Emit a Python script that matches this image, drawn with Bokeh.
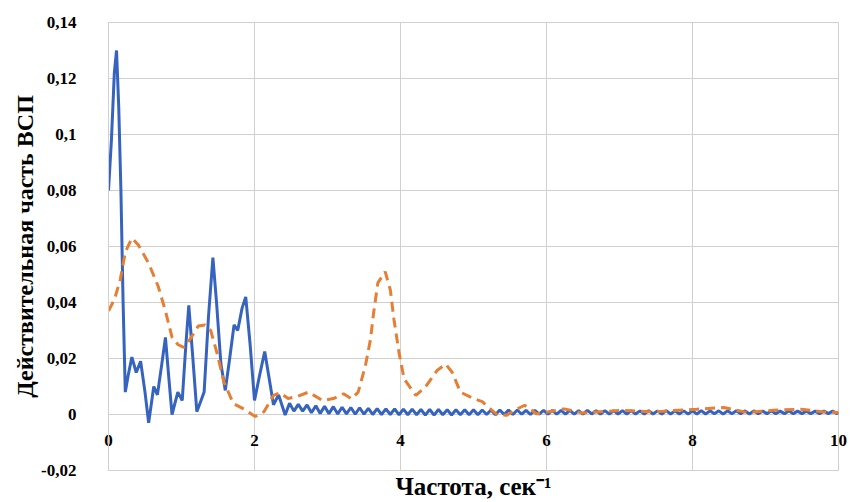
from bokeh.plotting import figure
from bokeh.models import Range1d, FixedTicker, CustomJSTickFormatter, Title
from bokeh.embed import file_html
from bokeh.resources import INLINE

# ---- data ----
x_ticks = [0, 2, 4, 6, 8, 10]
y_ticks = [-0.02, 0.0, 0.02, 0.04, 0.06, 0.08, 0.10, 0.12, 0.14]

blue_x = [0.00, 0.04, 0.08, 0.11, 0.14, 0.17, 0.20, 0.23, 0.27, 0.32,
          0.38, 0.44, 0.50, 0.55, 0.62, 0.67, 0.73, 0.78, 0.83, 0.87,
          0.95, 1.01, 1.06, 1.10, 1.15, 1.21, 1.26, 1.31, 1.37, 1.43,
          1.48, 1.54, 1.60, 1.66, 1.72, 1.77, 1.83, 1.88, 1.94, 2.00,
          2.07, 2.14, 2.20, 2.26, 2.33, 2.42, 2.48, 2.54,
          2.60, 2.66, 2.72, 2.78, 2.84, 2.90, 2.96, 3.02, 3.08, 3.14,
          3.20, 3.26, 3.32, 3.38, 3.44, 3.50, 3.56, 3.62, 3.68, 3.74,
          3.80, 3.86, 3.92, 3.98, 4.04, 4.10, 4.16, 4.22, 4.28, 4.34,
          4.40, 4.46, 4.52, 4.58, 4.64, 4.70, 4.76, 4.82, 4.88, 4.94,
          5.00, 5.06, 5.12, 5.18, 5.24, 5.30, 5.36, 5.42, 5.48, 5.54,
          5.60, 5.66, 5.72, 5.78, 5.84, 5.90, 5.96, 6.02, 6.08, 6.14,
          6.20, 6.26, 6.32, 6.38, 6.44, 6.50, 6.56, 6.62, 6.68, 6.74,
          6.80, 6.86, 6.92, 6.98, 7.04, 7.10, 7.16, 7.22, 7.28, 7.34,
          7.40, 7.46, 7.52, 7.58, 7.64, 7.70, 7.76, 7.82, 7.88, 7.94,
          8.00, 8.06, 8.12, 8.18, 8.24, 8.30, 8.36, 8.42, 8.48, 8.54,
          8.60, 8.66, 8.72, 8.78, 8.84, 8.90, 8.96, 9.02, 9.08, 9.14,
          9.20, 9.26, 9.32, 9.38, 9.44, 9.50, 9.56, 9.62, 9.68, 9.74,
          9.80, 9.86, 9.92, 9.98, 10.00]
blue_y = [0.080, 0.098, 0.122, 0.130, 0.110, 0.080, 0.040, 0.008, 0.014, 0.0205,
          0.015, 0.019, 0.008, -0.003, 0.010, 0.007, 0.018, 0.0275, 0.012, 0.000,
          0.008, 0.005, 0.025, 0.039, 0.022, 0.001, 0.0045, 0.008, 0.035, 0.056,
          0.040, 0.018, 0.0086, 0.020, 0.032, 0.030, 0.038, 0.042, 0.025, 0.005,
          0.014, 0.0225, 0.013, 0.0035, 0.007, -0.0002, 0.004, 0.0012,
          0.0036, 0.0012, 0.0034, 0.0006, 0.0031, 0.0004, 0.0029, 0.0003, 0.0028, 0.0002,
          0.0026, 0.0002, 0.0025, 0.0001, 0.0024, 0.0001, 0.0022, 0.0000, 0.0021, 0.0000,
          0.0020, 0.0000, 0.0020, -0.0001, 0.0019, -0.0001, 0.0019, -0.0001, 0.0018, -0.0002,
          0.0018, -0.0002, 0.0018, -0.0001, 0.0017, -0.0002, 0.0017, -0.0001, 0.0017, -0.0001,
          0.0017, -0.0001, 0.0016, 0.0000, 0.0016, -0.0001, 0.0016, 0.0000, 0.0016, 0.0000,
          0.0016, 0.0001, 0.0015, 0.0000, 0.0015, 0.0001, 0.0015, 0.0001, 0.0015, 0.0001,
          0.0015, 0.0001, 0.0015, 0.0001, 0.0014, 0.0001, 0.0015, 0.0002, 0.0014, 0.0001,
          0.0014, 0.0002, 0.0014, 0.0001, 0.0014, 0.0002, 0.0014, 0.0002, 0.0013, 0.0002,
          0.0014, 0.0002, 0.0013, 0.0002, 0.0014, 0.0002, 0.0013, 0.0002, 0.0013, 0.0002,
          0.0013, 0.0002, 0.0014, 0.0002, 0.0013, 0.0003, 0.0013, 0.0002, 0.0013, 0.0003,
          0.0013, 0.0003, 0.0013, 0.0002, 0.0013, 0.0003, 0.0012, 0.0003, 0.0013, 0.0003,
          0.0012, 0.0003, 0.0013, 0.0003, 0.0012, 0.0003, 0.0012, 0.0003, 0.0012, 0.0003,
          0.0012, 0.0003, 0.0012, 0.0003, 0.0008]

orange_x = [0.00, 0.08, 0.16, 0.23, 0.32, 0.41, 0.55, 0.68, 0.78, 0.87,
            0.95, 1.03, 1.12, 1.23, 1.32, 1.40, 1.49, 1.58, 1.71, 1.85,
            2.01, 2.13, 2.26, 2.35, 2.46, 2.58, 2.74, 2.93, 3.08, 3.22,
            3.33, 3.42, 3.52, 3.59, 3.63, 3.69, 3.79, 3.86, 3.91, 3.98,
            4.05, 4.21, 4.34, 4.50, 4.62, 4.71, 4.82, 5.00, 5.12, 5.32,
            5.45, 5.60, 5.70, 5.86, 6.00, 6.24, 6.50, 7.01, 7.40, 7.60,
            8.06, 8.43, 8.75, 9.10, 9.48, 9.77, 10.00]
orange_y = [0.037, 0.041, 0.048, 0.058, 0.063, 0.0605, 0.054, 0.0458, 0.037, 0.0276,
            0.025, 0.024, 0.027, 0.0316, 0.032, 0.030, 0.0216, 0.0117, 0.0039, 0.002,
            -0.0007, 0.001, 0.0068, 0.0078, 0.0057, 0.0064, 0.008, 0.005, 0.0057, 0.0074,
            0.0056, 0.008, 0.0175, 0.027, 0.036, 0.047, 0.051, 0.0446, 0.034, 0.022,
            0.0127, 0.0068, 0.0098, 0.0157, 0.018, 0.015, 0.008, 0.0057, 0.0046, 0.0000,
            -0.0003, 0.002, 0.0033, 0.0003, 0.0008, 0.002, 0.0005, 0.0015, 0.001, 0.0012,
            0.0019, 0.0025, 0.0007, 0.0015, 0.0019, 0.001, 0.0007]

x_title = "Частота, сек⁻¹"
y_title = "Действительная часть ВСП"

# ---- styling ----
BLUE = "#3563BE"
ORANGE = "#E67E34"
GRID = "#D0D0D0"
FONT = "Liberation Serif"

p = figure(width=850, height=502,
           x_range=Range1d(0, 10), y_range=Range1d(-0.02, 0.14),
           output_backend="svg", toolbar_location=None,
           min_border_left=108, min_border_right=12,
           min_border_top=22, min_border_bottom=32)

p.background_fill_color = "white"
p.border_fill_color = "white"
p.outline_line_color = GRID

p.line(blue_x, blue_y, line_color=BLUE, line_width=3)
p.line(orange_x, orange_y, line_color=ORANGE, line_width=3, line_dash="10 6")

# x axis: labels pulled up so they sit just under the y = 0 line
xa = p.xaxis[0]
xa.ticker = FixedTicker(ticks=x_ticks)
xa.axis_line_color = GRID
xa.major_tick_line_color = None
xa.minor_tick_line_color = None
xa.major_label_text_font = FONT
xa.major_label_text_font_style = "bold"
xa.major_label_text_font_size = "17px"
xa.major_label_text_color = "black"
xa.major_label_standoff = -42

ya = p.yaxis[0]
ya.ticker = FixedTicker(ticks=y_ticks)
ya.formatter = CustomJSTickFormatter(code="""
    const v = Math.round(tick * 100) / 100;
    return v.toString().replace('.', ',');
""")
ya.axis_line_color = GRID
ya.major_tick_line_color = None
ya.minor_tick_line_color = None
ya.major_label_text_font = FONT
ya.major_label_text_font_style = "bold"
ya.major_label_text_font_size = "17px"
ya.major_label_text_color = "black"
ya.major_label_standoff = 26
ya.axis_label = y_title
ya.axis_label_text_font = FONT
ya.axis_label_text_font_style = "bold"
ya.axis_label_text_font_size = "24px"
ya.axis_label_text_color = "black"
ya.axis_label_standoff = 0

p.xgrid.ticker = FixedTicker(ticks=x_ticks)
p.ygrid.ticker = FixedTicker(ticks=y_ticks)
p.xgrid.grid_line_color = GRID
p.ygrid.grid_line_color = GRID

p.add_layout(Title(text=x_title, align="center", text_font=FONT,
                   text_font_style="bold", text_font_size="25px",
                   text_color="black", standoff=0, offset=0), "below")

open("out.html", "w").write(file_html(p, INLINE))
